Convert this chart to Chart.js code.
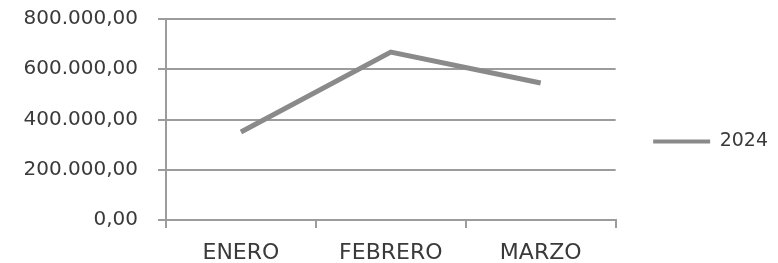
<!DOCTYPE html>
<html>
<head>
<meta charset="utf-8">
<script src="https://cdn.jsdelivr.net/npm/chart.js@4"></script>
<style>
  body { margin: 0; background: #fff; }
  #wrap { width: 778px; height: 263px; position: relative; }
</style>
</head>
<body>
<div id="wrap"><canvas id="chart"></canvas></div>
<script>
var months = ['ENERO', 'FEBRERO', 'MARZO'];
var values2024 = [350000, 668000, 545000];
var yTicks = [0, 200000, 400000, 600000, 800000];

function fmt(v) {
    // 800000 -> 800.000,00
    var s = Math.round(v).toString().replace(/\B(?=(\d{3})+(?!\d))/g, '.');
    return s + ',00';
}

var gray = '#8a8a8a';
var gridGray = '#9c9c9c';
var textColor = '#3a3a3a';
var font = 'DejaVu Sans';

new Chart(document.getElementById('chart'), {
    type: 'line',
    data: {
        labels: months,
        datasets: [{
            label: '2024',
            data: values2024,
            borderColor: gray,
            backgroundColor: gray,
            borderWidth: 5,
            pointRadius: 0,
            tension: 0,
            fill: false
        }]
    },
    options: {
        responsive: true,
        maintainAspectRatio: false,
        animation: false,
        layout: { padding: { top: 19, left: 0, right: 0, bottom: -1 } },
        plugins: {
            legend: {
                position: 'right',
                labels: {
                    usePointStyle: true,
                    pointStyle: 'line',
                    pointStyleWidth: 57,
                    padding: 37.5,
                    color: textColor,
                    font: { family: font, size: 19 },
                    generateLabels: function(chart) {
                        var items = Chart.defaults.plugins.legend.labels.generateLabels(chart);
                        items.forEach(function(it) { it.lineWidth = 4; it.pointStyle = 'line'; });
                        return items;
                    }
                }
            },
            tooltip: { enabled: false }
        },
        scales: {
            x: {
                offset: true,
                afterFit: function(axis) { axis.height = 44; },
                grid: { display: true, drawOnChartArea: false, color: gridGray, lineWidth: 2, tickLength: 8, offset: true },
                border: { color: gridGray, width: 2 },
                ticks: { color: textColor, padding: 14, font: { family: font, size: 22, lineHeight: 1 } }
            },
            y: {
                min: 0,
                max: 800000,
                afterBuildTicks: function(axis) {
                    axis.ticks = yTicks.map(function(v) { return { value: v }; });
                },
                afterFit: function(axis) {
                    // top label may overhang, don't reserve space for it
                    axis.paddingTop = 0;
                    axis.paddingBottom = 0;
                    axis.width = 166;
                },
                grid: { color: gridGray, lineWidth: 2, tickLength: 8 },
                border: { color: gridGray, width: 2 },
                ticks: {
                    color: textColor,
                    padding: 20,
                    font: { family: font, size: 20 },
                    callback: function(v) { return fmt(v); }
                }
            }
        }
    }
});
</script>
</body>
</html>
